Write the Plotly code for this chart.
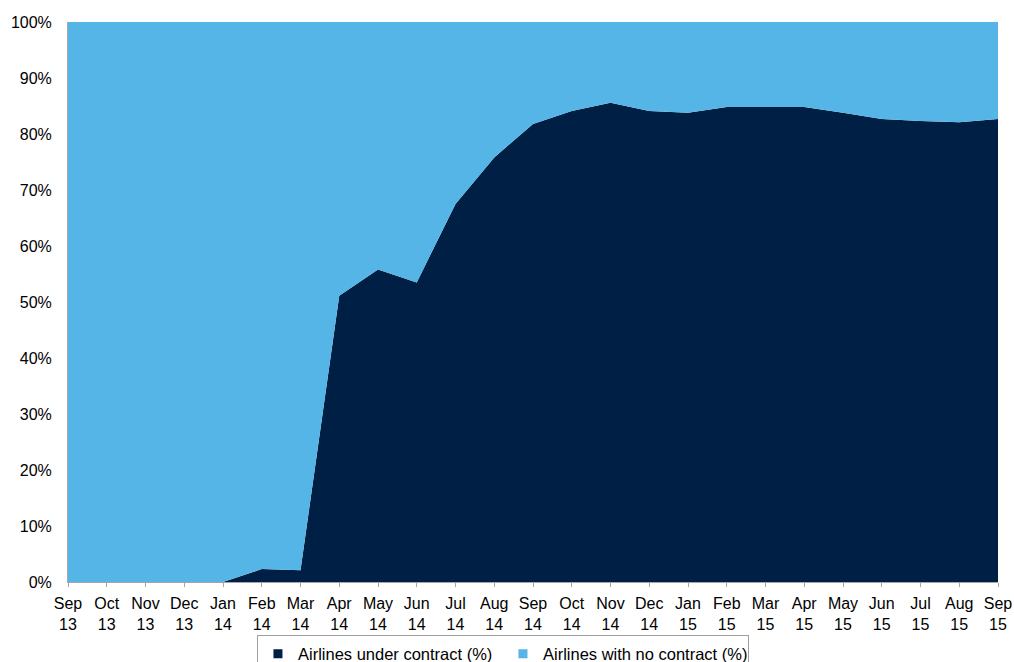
import plotly.graph_objects as go

months = ["Sep<br>13", "Oct<br>13", "Nov<br>13", "Dec<br>13", "Jan<br>14", "Feb<br>14", "Mar<br>14",
          "Apr<br>14", "May<br>14", "Jun<br>14", "Jul<br>14", "Aug<br>14", "Sep<br>14", "Oct<br>14",
          "Nov<br>14", "Dec<br>14", "Jan<br>15", "Feb<br>15", "Mar<br>15", "Apr<br>15", "May<br>15",
          "Jun<br>15", "Jul<br>15", "Aug<br>15", "Sep<br>15"]

under_contract = [0, 0, 0, 0, 0, 2.3, 2.1, 51.1, 55.8, 53.5, 67.5, 75.8, 81.8, 84.1,
                  85.6, 84.1, 83.8, 84.8, 84.8, 84.8, 83.8, 82.7, 82.3, 82.1, 82.7]
no_contract = [100, 100, 100, 100, 100, 97.7, 97.9, 48.9, 44.2, 46.5, 32.5, 24.2, 18.2, 15.9,
               14.4, 15.9, 16.2, 15.2, 15.2, 15.2, 16.2, 17.3, 17.7, 17.9, 17.3]
series_names = ["Airlines under contract (%)", "Airlines with no contract (%)"]

x = list(range(len(months)))
DARK = "#001F44"
LIGHT = "#54B5E6"
colors = [DARK, LIGHT]

fig = go.Figure()
for name, vals, col in zip(series_names, [under_contract, no_contract], colors):
    fig.add_trace(go.Scatter(x=x, y=vals, name=name, stackgroup="one", mode="none",
                             fillcolor=col, showlegend=False, legendgroup=name))
# legend entries with small square symbols
for name, col in zip(series_names, colors):
    fig.add_trace(go.Scatter(x=[None], y=[None], name=name, mode="markers",
                             marker=dict(symbol="square", size=9, color=col),
                             legendgroup=name, showlegend=True))

font = dict(family="Liberation Sans, Arial, sans-serif", size=16, color="#000000")
fig.update_layout(
    width=1014, height=662,
    margin=dict(l=68, r=16, t=22, b=80, autoexpand=False),
    paper_bgcolor="white", plot_bgcolor="white",
    font=font,
    showlegend=True,
    legend=dict(orientation="h", x=0.4677, xanchor="center", y=-0.0955, yanchor="top",
                bordercolor="#A0A0A0", borderwidth=1, bgcolor="white",
                font=dict(family="Liberation Sans, Arial, sans-serif", size=16.5, color="#000000"),
                itemwidth=30, traceorder="normal", entrywidth=200),
    xaxis=dict(range=[0, 24], tickmode="array", tickvals=x, ticktext=months,
               showline=True, linecolor="#A6A6A6", linewidth=1,
               ticks="outside", ticklen=4, tickcolor="#A6A6A6", ticklabelstandoff=3,
               showgrid=False, zeroline=False, tickangle=0),
    yaxis=dict(range=[0, 100], tickvals=list(range(0, 101, 10)),
               ticktext=[f"{v}%" for v in range(0, 101, 10)],
               showline=True, linecolor="#A6A6A6", linewidth=1,
               ticks="", ticklabelstandoff=12,
               showgrid=False, zeroline=False),
)

fig.write_html("out.html")
